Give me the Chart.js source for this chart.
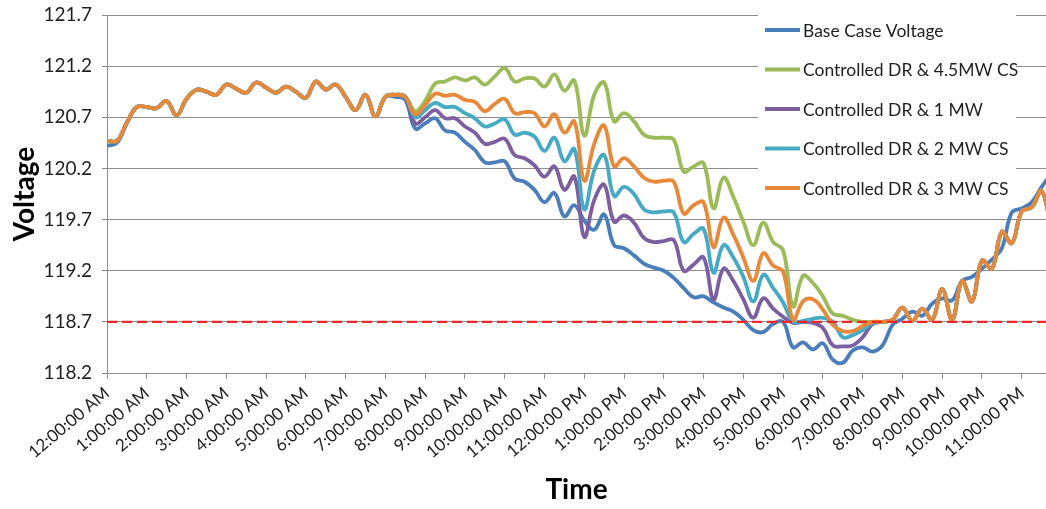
<!DOCTYPE html>
<html>
<head>
<meta charset="utf-8">
<title>Voltage profile</title>
<script src="https://cdn.jsdelivr.net/npm/chart.js@4.4.1/dist/chart.umd.min.js"></script>
<style>
  html, body { margin: 0; padding: 0; background: #fff; }
  #wrap { width: 1046px; height: 509px; position: relative; }
</style>
</head>
<body>
<div id="wrap"><canvas id="voltage-chart"></canvas></div>
<script>
const tickLabels = [
  '12:00:00 AM', '1:00:00 AM', '2:00:00 AM', '3:00:00 AM', '4:00:00 AM', '5:00:00 AM',
  '6:00:00 AM', '7:00:00 AM', '8:00:00 AM', '9:00:00 AM', '10:00:00 AM', '11:00:00 AM',
  '12:00:00 PM', '1:00:00 PM', '2:00:00 PM', '3:00:00 PM', '4:00:00 PM', '5:00:00 PM',
  '6:00:00 PM', '7:00:00 PM', '8:00:00 PM', '9:00:00 PM', '10:00:00 PM', '11:00:00 PM',
];

// one reading every 15 minutes, in hours after midnight
const times = Array.from({ length: 96 }, (_, i) => i / 4);

const limitVoltage = 118.7;

const baseCase = [
  120.42, 120.45, 120.64, 120.80, 120.80, 120.79, 120.86, 120.72,
  120.88, 120.97, 120.95, 120.92, 121.02, 120.98, 120.94, 121.04,
  120.99, 120.94, 121.00, 120.95, 120.89, 121.05, 120.97, 121.02,
  120.90, 120.77, 120.92, 120.71, 120.90, 120.90, 120.87, 120.59,
  120.64, 120.69, 120.57, 120.55, 120.46, 120.38, 120.26, 120.26,
  120.27, 120.10, 120.07, 119.99, 119.87, 119.96, 119.73, 119.84,
  119.69, 119.60, 119.75, 119.45, 119.42, 119.35, 119.27, 119.23,
  119.20, 119.13, 119.03, 118.94, 118.95, 118.89, 118.84, 118.80,
  118.72, 118.62, 118.60, 118.68, 118.70, 118.45, 118.50, 118.43,
  118.49, 118.33, 118.30, 118.42, 118.45, 118.41, 118.47, 118.67,
  118.73, 118.80, 118.76, 118.88, 118.93, 118.91, 119.10, 119.14,
  119.22, 119.31, 119.42, 119.77, 119.81, 119.87, 120.02, 120.15,
];

const dr45MW = [
  120.47, 120.47, 120.65, 120.80, 120.80, 120.79, 120.86, 120.72,
  120.88, 120.97, 120.95, 120.92, 121.02, 120.98, 120.94, 121.04,
  120.99, 120.94, 121.00, 120.95, 120.89, 121.05, 120.97, 121.02,
  120.90, 120.77, 120.92, 120.71, 120.90, 120.92, 120.90, 120.76,
  120.86, 121.03, 121.05, 121.09, 121.06, 121.09, 121.02, 121.10,
  121.18, 121.05, 121.08, 121.08, 121.00, 121.12, 120.96, 121.06,
  120.52, 120.92, 121.04, 120.66, 120.74, 120.66, 120.53, 120.50,
  120.50, 120.48, 120.17, 120.22, 120.25, 119.81, 120.11, 119.92,
  119.68, 119.45, 119.67, 119.48, 119.40, 118.85, 119.15, 119.08,
  118.95, 118.78, 118.76, 118.72, 118.70, 118.70, 118.70, 118.72,
  118.84, 118.71, 118.83, 118.72, 119.02, 118.72, 119.10, 118.90,
  119.30, 119.22, 119.58, 119.47, 119.78, 119.82, 119.98, 119.60,
];

const dr1MW = [
  120.47, 120.47, 120.65, 120.80, 120.80, 120.79, 120.86, 120.72,
  120.88, 120.97, 120.95, 120.92, 121.02, 120.98, 120.94, 121.04,
  120.99, 120.94, 121.00, 120.95, 120.89, 121.05, 120.97, 121.02,
  120.90, 120.77, 120.92, 120.71, 120.90, 120.92, 120.90, 120.64,
  120.70, 120.77, 120.69, 120.69, 120.61, 120.55, 120.44, 120.46,
  120.49, 120.33, 120.30, 120.23, 120.12, 120.22, 119.99, 120.12,
  119.53, 119.89, 120.04, 119.68, 119.74, 119.67, 119.52, 119.48,
  119.49, 119.50, 119.20, 119.26, 119.33, 118.92, 119.22, 119.10,
  118.92, 118.74, 118.93, 118.83, 118.75, 118.69, 118.70, 118.69,
  118.64, 118.47, 118.46, 118.47, 118.55, 118.68, 118.70, 118.72,
  118.84, 118.71, 118.83, 118.72, 119.02, 118.72, 119.10, 118.90,
  119.30, 119.22, 119.58, 119.47, 119.78, 119.82, 119.98, 119.60,
];

const dr2MW = [
  120.47, 120.47, 120.65, 120.80, 120.80, 120.79, 120.86, 120.72,
  120.88, 120.97, 120.95, 120.92, 121.02, 120.98, 120.94, 121.04,
  120.99, 120.94, 121.00, 120.95, 120.89, 121.05, 120.97, 121.02,
  120.90, 120.77, 120.92, 120.71, 120.90, 120.92, 120.90, 120.70,
  120.77, 120.84, 120.80, 120.80, 120.74, 120.69, 120.61, 120.64,
  120.68, 120.53, 120.55, 120.51, 120.37, 120.50, 120.27, 120.39,
  119.80, 120.18, 120.33, 119.93, 120.02, 119.95, 119.80, 119.77,
  119.78, 119.77, 119.48, 119.56, 119.61, 119.18, 119.45, 119.33,
  119.14, 118.90, 119.16, 119.03, 118.89, 118.70, 118.71, 118.73,
  118.74, 118.70, 118.55, 118.57, 118.62, 118.69, 118.70, 118.72,
  118.84, 118.71, 118.83, 118.72, 119.02, 118.72, 119.10, 118.90,
  119.30, 119.22, 119.58, 119.47, 119.78, 119.82, 119.98, 119.60,
];

const dr3MW = [
  120.47, 120.47, 120.65, 120.80, 120.80, 120.79, 120.86, 120.72,
  120.88, 120.97, 120.95, 120.92, 121.02, 120.98, 120.94, 121.04,
  120.99, 120.94, 121.00, 120.95, 120.89, 121.05, 120.97, 121.02,
  120.90, 120.77, 120.92, 120.71, 120.90, 120.92, 120.90, 120.73,
  120.82, 120.93, 120.91, 120.92, 120.87, 120.85, 120.76, 120.83,
  120.88, 120.74, 120.75, 120.74, 120.61, 120.73, 120.55, 120.66,
  120.08, 120.44, 120.62, 120.22, 120.30, 120.22, 120.11, 120.07,
  120.08, 120.07, 119.76, 119.84, 119.87, 119.43, 119.72, 119.55,
  119.33, 119.10, 119.37, 119.25, 119.19, 118.72, 118.90, 118.92,
  118.82, 118.67, 118.61, 118.61, 118.66, 118.70, 118.70, 118.72,
  118.84, 118.71, 118.83, 118.72, 119.02, 118.72, 119.10, 118.90,
  119.30, 119.22, 119.58, 119.47, 119.78, 119.82, 119.98, 119.60,
];

const GRID = '#8c8c8c';
const TEXT = '#1f1f1f';

Chart.defaults.font.family = 'Lato, "Open Sans", sans-serif';
Chart.defaults.color = TEXT;

function series(label, data, color, order) {
  return {
    label,
    data,
    borderColor: color,
    backgroundColor: color,
    borderWidth: 3.8,
    pointRadius: 0,
    tension: 0.4,
    borderJoinStyle: 'round',
    borderCapStyle: 'round',
    order,
  };
}

// legend drawn as a white box in the upper right of the plot
const sideLegend = {
  id: 'sideLegend',
  afterDatasetsDraw(chart) {
    const { ctx, chartArea } = chart;
    const left = chartArea.right - 288;
    ctx.save();
    ctx.fillStyle = '#fff';
    ctx.fillRect(left, chartArea.top - 5, 258, 198);
    ctx.font = '17.5px Lato, "Open Sans", sans-serif';
    ctx.textBaseline = 'middle';
    ctx.textAlign = 'left';
    chart.data.datasets.filter((ds) => !ds.hideInLegend).forEach((ds, i) => {
      const y = chartArea.top + 15 + i * 39.5;
      ctx.strokeStyle = ds.borderColor;
      ctx.lineWidth = 4;
      ctx.beginPath();
      ctx.moveTo(left + 7, y);
      ctx.lineTo(left + 42, y);
      ctx.stroke();
      ctx.fillStyle = TEXT;
      ctx.fillText(ds.label, left + 45, y + 1);
    });
    ctx.restore();
  },
};

const limitLine = {
  label: 'Limit',
  data: times.map(() => limitVoltage),
  borderColor: '#f0262a',
  borderWidth: 2.2,
  borderDash: [10, 5],
  pointRadius: 0,
  tension: 0,
  order: 0,
  hideInLegend: true,
};

new Chart(document.getElementById('voltage-chart'), {
  type: 'line',
  data: {
    labels: times,
    datasets: [
      series('Base Case Voltage', baseCase, '#4a7ebb', 5),
      series('Controlled DR & 4.5MW CS', dr45MW, '#9bbb59', 4),
      series('Controlled DR & 1 MW', dr1MW, '#7d5fa0', 3),
      series('Controlled DR & 2 MW CS', dr2MW, '#46aac5', 2),
      series('Controlled DR & 3 MW CS', dr3MW, '#e8893a', 1),
      limitLine,
    ],
  },
  options: {
    responsive: true,
    maintainAspectRatio: false,
    animation: false,
    layout: { padding: { top: 15, right: 0, left: 0, bottom: 0 } },
    plugins: { legend: { display: false }, tooltip: { enabled: false } },
    scales: {
      x: {
        type: 'linear',
        min: 0,
        max: 23.61,
        grid: { drawOnChartArea: false, color: GRID, tickLength: 6 },
        border: { color: GRID },
        ticks: {
          stepSize: 1,
          includeBounds: false,
          autoSkip: false,
          minRotation: 40,
          maxRotation: 40,
          padding: 4,
          color: TEXT,
          font: { size: 17 },
          callback: (v) => tickLabels[v],
        },
        title: {
          display: true,
          text: 'Time',
          color: '#000',
          font: { size: 28, weight: 'bold' },
          padding: { top: 0, bottom: 2 },
        },
        afterFit(scale) {
          scale.height = 136;
          scale.paddingRight = 0;
        },
      },
      y: {
        min: 118.2,
        max: 121.7,
        grid: { color: GRID, tickLength: 5 },
        border: { color: GRID },
        ticks: {
          stepSize: 0.5,
          padding: 10,
          color: TEXT,
          font: { size: 19 },
          callback: (v) => v.toFixed(1),
        },
        title: {
          display: true,
          text: 'Voltage',
          color: '#000',
          font: { size: 28, weight: 'bold' },
          padding: { top: 8, bottom: 0 },
        },
        afterFit(scale) {
          scale.width = 107;
          scale.paddingTop = 0;
          scale.paddingBottom = 0;
        },
      },
    },
  },
  plugins: [sideLegend],
});
</script>
</body>
</html>
